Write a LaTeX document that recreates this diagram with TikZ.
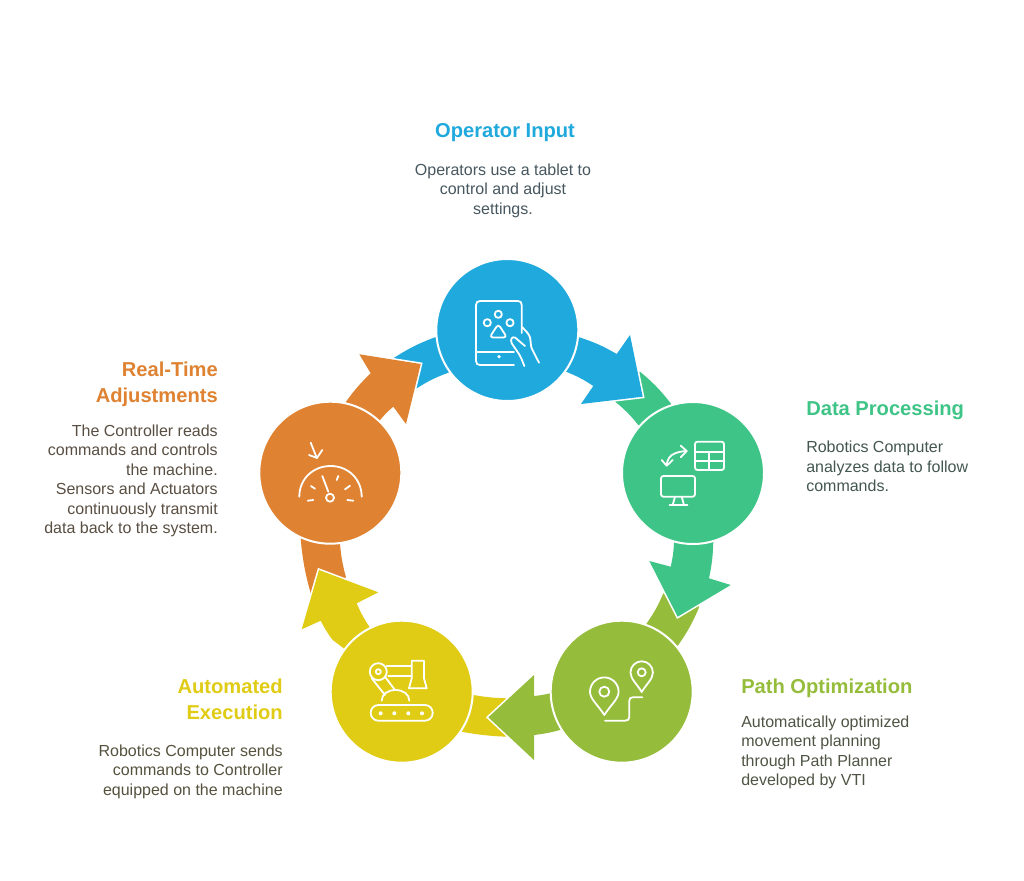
\documentclass[tikz,border=0pt]{standalone}
\usepackage{fontspec}
\setmainfont{Liberation Sans}
\definecolor{cblue}{HTML}{1FA9DC}
\definecolor{cgreen}{HTML}{3EC486}
\definecolor{clime}{HTML}{95BC3A}
\definecolor{cyel}{HTML}{E0CC14}
\definecolor{corg}{HTML}{DF8231}
\definecolor{tblue}{HTML}{47575F}
\definecolor{tgreen}{HTML}{43574F}
\definecolor{tlime}{HTML}{4F5544}
\definecolor{tyel}{HTML}{55523E}
\definecolor{torg}{HTML}{594E42}
\pgfdeclarelayer{back}
\pgfsetlayers{back,main}
\tikzset{
  hub/.style={circle,fill=#1,draw=white,line width=1.5pt,minimum size=106.5pt,inner sep=0pt},
  tailshape/.style={fill=#1},
  arrowshape/.style={fill=#1,preaction={draw=white,line width=2.4pt,line join=miter}},
  icon/.style={draw=white,line width=1.35pt,line cap=round,line join=round},
  dotmark/.style={fill=white},
  heading/.style={font=\fontsize{15.1}{19.5}\selectfont\bfseries,inner sep=0pt},
  body/.style={font=\fontsize{12}{14.6}\selectfont,inner sep=0pt},
}
\begin{document}
\begin{tikzpicture}[x=0.75pt,y=-0.75pt]
\useasboundingbox (0,0) rectangle (1024,881);
% hubs
\node[hub=cblue] (blue) at (507.3,330) {};
\node[hub=cgreen] (green) at (693,473) {};
\node[hub=clime] (lime) at (621.7,691.7) {};
\node[hub=cyel] (yel) at (401.7,691.7) {};
\node[hub=corg] (org) at (330.3,472.7) {};
% arrow tips
\coordinate (tipblue) at (642.7,396.7);
\coordinate (tipgreen) at (677.7,616.7);
\coordinate (tiplime) at (488.3,717.3);
\coordinate (tipyel) at (319,570);
\coordinate (tiporg) at (420.7,364);
\begin{pgfonlayer}{back}
\fill[white] (0,0) rectangle (1024,881);
% tails
\path[tailshape=cgreen] (green.center) -- (670.7,403.3) to[bend right=6] (640,371.7) -- (614,400.7) to[bend left=6] (638.3,425) -- cycle;
\path[tailshape=clime] (lime.center) -- (678.3,645) to[bend right=6] (699.3,606.7) -- (663.3,593.3) to[bend left=6] (646.7,623.3) -- cycle;
\path[tailshape=cyel] (yel.center) -- (461.7,731.7) to[bend right=4] (506.7,736.7) -- (506.7,698.3) to[bend left=4] (473.3,695) -- cycle;
\path[tailshape=corg] (org.center) -- (300.7,539) to[bend right=5] (310.7,593.3) -- (346,577.3) to[bend left=5] (340,544) -- cycle;
\path[tailshape=cblue] (blue.center) -- (435,337.3) to[bend right=6] (393.3,358.3) -- (416.7,388.3) to[bend left=6] (448.3,372.7) -- cycle;
% arrows
\path[arrowshape=cblue] (blue.center) -- (579.3,337.3) to[bend left=6] (616.7,354) -- (630,335) -- (tipblue) -- (581,404) -- (593.3,386) to[bend right=6] (566,371.7) -- cycle;
\path[arrowshape=cgreen] (green.center) -- (713.3,541.7) to[bend left=5] (709,578.3) -- (730.7,585) -- (tipgreen) -- (649.3,561) -- (670.7,566.7) to[bend right=5] (674,542.7) -- cycle;
\path[arrowshape=clime] (lime.center) -- (560,730) to[bend left=4] (534,735) -- (534,760) -- (tiplime) -- (534,675) -- (534,696) to[bend right=4] (550,693.3) -- cycle;
\path[arrowshape=cyel] (yel.center) -- (332.7,640) to[bend left=5] (320.7,620.7) -- (301.7,629.3) -- (tipyel) -- (378.3,592.3) -- (356.7,603.3) to[bend right=5] (369.3,626.7) -- cycle;
\path[arrowshape=corg] (org.center) -- (346,401.7) to[bend left=5] (370.7,373.3) -- (359.3,354.3) -- (tiporg) -- (406,424) -- (393.3,406.7) to[bend right=5] (380.7,419.3) -- cycle;
\end{pgfonlayer}
% tablet icon
\draw[icon] (514,365) -- (480,365) .. controls (477.5,365) and (476,363.5) .. (476,361) -- (476,305) .. controls (476,302.5) and (477.5,301) .. (480,301) -- (518,301) .. controls (520.5,301) and (521.7,302.5) .. (521.7,305) -- (521.7,333);
\draw[icon] (476,351.7) -- (514,351.7);
\fill[dotmark] (499,356.7) circle[radius=1.8];
\draw[icon] (498.3,314.3) circle[radius=3.6];
\draw[icon] (487.3,322.7) circle[radius=3.6];
\draw[icon] (510,322.7) circle[radius=3.6];
\draw[icon,rounded corners=2.6pt] (498.3,324) -- (489.5,337.5) -- (507,337.5) -- cycle;
\draw[icon] (524.3,366) .. controls (522,360) and (521,357) .. (518.3,353) -- (511.7,343.3) .. controls (510,339) and (512,336.5) .. (515,337.5) -- (525,346);
\draw[icon] (522.3,327.3) .. controls (526,331) and (529,334) .. (530,337.5) .. controls (531,342) and (530.5,346) .. (532,349) -- (539,362.7);
% data icon
\draw[icon,rounded corners=1.8pt] (695,441.7) rectangle (724,470);
\draw[icon] (695,451.7) -- (724,451.7) (695,460.7) -- (724,460.7) (709.3,451.7) -- (709.3,470);
\draw[icon,rounded corners=1.8pt] (661,476) rectangle (695,496.7);
\draw[icon] (675,496.7) -- (672.7,505) (681.7,496.7) -- (684,505) (669.5,505) -- (687.5,505);
\draw[icon] (686.5,451) .. controls (678,451.5) and (671,454) .. (669,458) .. controls (667.5,460.5) and (667,462) .. (666.7,465);
\draw[icon] (680.7,445.7) -- (686.7,451) -- (680.7,457.3);
\draw[icon] (661.7,460) -- (666.7,465.7) -- (672.7,460);
% path icon
\draw[icon] (604.3,715) .. controls (598,705) and (590,699) .. (590,691.7) .. controls (590,683.8) and (596.4,677.4) .. (604.3,677.4) .. controls (612.2,677.4) and (618.6,683.8) .. (618.6,691.7) .. controls (618.6,699) and (610.6,705) .. (604.3,715) -- cycle;
\draw[icon] (604.3,691.7) circle[radius=5];
\draw[icon] (641.7,692) .. controls (637,684) and (630.5,679) .. (630.5,672.5) .. controls (630.5,666.3) and (635.5,661.3) .. (641.7,661.3) .. controls (647.9,661.3) and (652.9,666.3) .. (652.9,672.5) .. controls (652.9,679) and (646.4,684) .. (641.7,692) -- cycle;
\draw[icon] (641.7,672.3) circle[radius=4];
\draw[icon] (605,720.7) -- (625,720.7) .. controls (628,720.7) and (629.3,719.5) .. (629.3,717) -- (629.3,700.7) .. controls (629.3,698.5) and (630.5,697.3) .. (632.7,697.3) -- (642.3,697.3);
% robot icon
\draw[icon,rounded corners=5.8pt] (370.7,705) rectangle (432.7,720.7);
\foreach \dx in {380.7,394.3,408.3,422} \fill[dotmark] (\dx,713.3) circle[radius=2];
\draw[icon] (381.7,700.7) .. controls (381.7,694) and (388,690) .. (395.5,690) .. controls (403,690) and (409.3,694) .. (409.3,700.7);
\draw[icon] (378.3,671.7) circle[radius=8.5];
\draw[icon] (378.3,671.7) circle[radius=2.5];
\draw[icon] (386.7,665.7) -- (411.7,665.7) (388.3,676) -- (411.7,676);
\draw[icon] (371.7,678.3) -- (385,695) (385,676.7) -- (395,690);
\draw[icon] (411.7,678.3) -- (411.7,660.7) -- (424,660.7) -- (424,678.3) -- (426.7,688.3) -- (409,688.3) -- (411.7,678.3);
% gauge icon
\draw[icon] (310.7,442.7) -- (316.7,457.7);
\draw[icon] (309,455) -- (317,458) -- (322.3,450);
\draw[icon] (299.3,496.7) .. controls (299.3,479) and (313,466) .. (330.7,466) .. controls (348,466) and (361.7,479) .. (361.7,496.7);
\draw[icon] (322.3,476) -- (328.3,491.7);
\draw[icon] (330,497.7) circle[radius=4];
\draw[icon] (311,486) -- (315,488.7) (307.7,500.7) -- (313.3,500) (336.7,480) -- (338.3,476) (345,489.3) -- (350,485.7) (347.3,500) -- (353.3,500.7);
% texts
\node[heading,text=cblue] (h1) at (505,133) {Operator Input};
\node[body,text=tblue,align=center] (b1) at (503,190.5) {Operators use a tablet to\\control and adjust\\settings.};
\node[heading,text=cgreen,anchor=west] (h2) at (806,410) {Data Processing};
\node[body,text=tgreen,align=left,anchor=west] (b2) at (806,466.5) {Robotics Computer\\analyzes data to follow\\commands.};
\node[heading,text=clime,anchor=west] (h3) at (741,688) {Path Optimization};
\node[body,text=tlime,align=left,anchor=west] (b3) at (741,752.5) {Automatically optimized\\movement planning\\through Path Planner\\developed by VTI};
\node[heading,text=cyel,align=right,anchor=east] (h4) at (283,699) {Automated\\Execution};
\node[body,text=tyel,align=right,anchor=east] (b4) at (283,771.5) {Robotics Computer sends\\commands to Controller\\equipped on the machine};
\node[heading,text=corg,align=right,anchor=east] (h5) at (218,384) {Real-Time\\Adjustments};
\node[body,text=torg,align=right,anchor=east] (b5) at (218,481) {The Controller reads\\commands and controls\\the machine.\\Sensors and Actuators\\continuously transmit\\data back to the system.};
\end{tikzpicture}
\end{document}
